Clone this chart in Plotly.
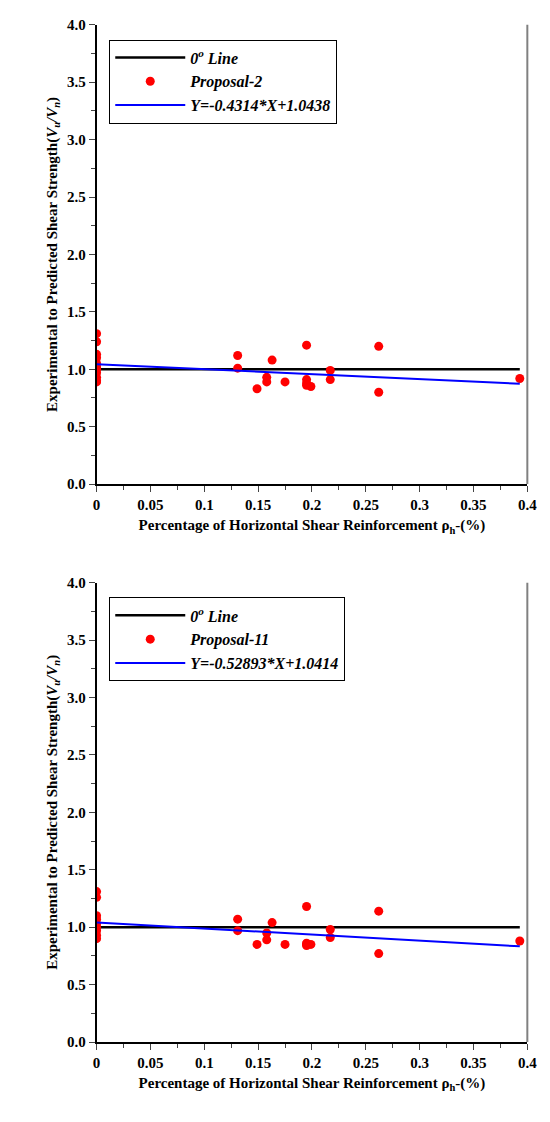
import plotly.graph_objects as go

x1 = [0]*11 + [0.131,0.131,0.149,0.158,0.158,0.163,0.175,0.195,0.195,0.195,0.195,0.199,0.217,0.217,0.262,0.262,0.393]
y1 = [1.31,1.24,1.13,1.10,1.05,1.02,1.00,0.97,0.93,0.90,0.89,
      1.12,1.01,0.83,0.93,0.89,1.08,0.89,1.21,0.91,0.88,0.86,0.85,0.99,0.91,1.20,0.80,0.92]
x2 = [0]*9 + [0.131,0.131,0.149,0.158,0.158,0.163,0.175,0.195,0.195,0.195,0.195,0.199,0.217,0.217,0.262,0.262,0.393]
y2 = [1.31,1.26,1.10,1.07,1.03,1.00,0.97,0.93,0.90,
      1.07,0.97,0.85,0.95,0.89,1.04,0.85,1.18,0.86,0.84,0.85,0.85,0.98,0.91,1.14,0.77,0.88]
fits = [(-0.4314, 1.0438, "Y=-0.4314*X+1.0438", "Proposal-2"),
        (-0.52893, 1.0414, "Y=-0.52893*X+1.0414", "Proposal-11")]
line_x = [0, 0.393]

W, H = 550, 1122
F = "Liberation Serif"
fig = go.Figure()
xdom = [95/W, 537/W]
ydoms = [[1-483/H, 1-17/H], [1-1049/H, 1-583/H]]
for i, (xs, ys) in enumerate([(x1, y1), (x2, y2)]):
    a, b, lbl, prop = fits[i]
    xa = "x" if i == 0 else "x2"
    ya = "y" if i == 0 else "y2"
    lg = "legend" if i == 0 else "legend2"
    fig.add_trace(go.Scatter(x=line_x, y=[1, 1], mode="lines", line=dict(color="black", width=2.5),
                             name="0<sup>o</sup> Line", legend=lg, xaxis=xa, yaxis=ya))
    fig.add_trace(go.Scatter(x=xs, y=ys, mode="markers", marker=dict(color="red", size=9),
                             name=prop, legend=lg, xaxis=xa, yaxis=ya))
    fig.add_trace(go.Scatter(x=line_x, y=[a*v+b for v in line_x], mode="lines",
                             line=dict(color="blue", width=2), name=lbl, legend=lg, xaxis=xa, yaxis=ya))
    xk = "xaxis" if i == 0 else "xaxis2"
    yk = "yaxis" if i == 0 else "yaxis2"
    fig.update_layout(**{
        xk: dict(domain=xdom, anchor=ya, range=[0, 0.4], dtick=0.05, tickformat="~g", ticks="outside",
                 ticklen=6, minor=dict(dtick=0.025, ticks="outside", ticklen=4),
                 showgrid=False, zeroline=False, showline=True, linecolor="black", linewidth=1.5,
                 tickfont=dict(size=15, family=F, weight="bold"),
                 title=dict(text="Percentage of Horizontal Shear Reinforcement ρ<sub>h</sub>-(%)",
                            font=dict(size=15, family=F, weight="bold"), standoff=8)),
        yk: dict(domain=ydoms[i], anchor=xa, range=[0, 4], dtick=0.5, tickformat=".1f", ticks="outside",
                 ticklen=6, minor=dict(dtick=0.25, ticks="outside", ticklen=4),
                 showgrid=False, zeroline=False, showline=True, linecolor="black", linewidth=1.5,
                 tickfont=dict(size=15, family=F, weight="bold"),
                 title=dict(text="Experimental to Predicted Shear Strength(<i>V<sub>u</sub>/V<sub>n</sub></i>)",
                            font=dict(size=15, family=F, weight="bold"), standoff=6)),
    })
for xd, yd in [("x", "y"), ("x2", "y2")]:
    fig.add_shape(type="line", xref=xd+" domain", yref=yd+" domain",
                  x0=1, x1=1, y0=0, y1=1, line=dict(color="gray", width=2))
leg = dict(bordercolor="black", borderwidth=1, bgcolor="white", x=108/W, xanchor="left",
           font=dict(size=16, family=F, style="italic", weight="bold"), tracegroupgap=0,
           itemwidth=70, entrywidth=260)
fig.update_layout(
    width=W, height=H, plot_bgcolor="white", paper_bgcolor="white",
    margin=dict(l=0, r=0, t=0, b=0),
    font=dict(family=F, size=15, color="black", weight="bold"),
    showlegend=True,
    legend=dict(**leg, y=1-32/H, yanchor="top"),
    legend2=dict(**leg, y=1-598/H, yanchor="top"),
)
fig.write_html("out.html", config={"displayModeBar": False},
               post_script="document.body.style.margin='0';document.body.style.overflow='hidden';document.documentElement.style.overflow='hidden';")
